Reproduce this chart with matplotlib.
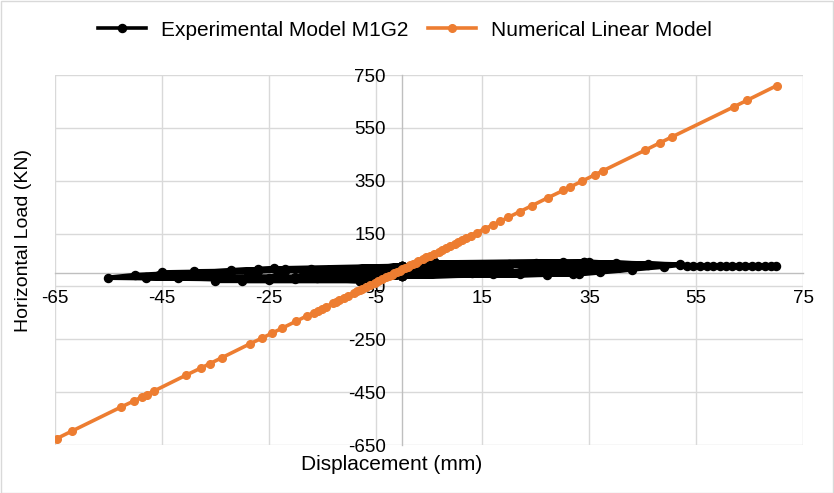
import matplotlib
matplotlib.use("Agg")
import matplotlib.pyplot as plt
from matplotlib.patches import Rectangle
from matplotlib.lines import Line2D

plt.rcParams['font.family'] = ['Liberation Sans', 'DejaVu Sans']

# ---------------- data ----------------
x_ticks = [-65, -45, -25, -5, 15, 35, 55, 75]
y_ticks = [-650, -450, -250, -50, 150, 350, 550, 750]

# Experimental hysteresis: cycle vertices
exp_disp = [0,
            0, 4, 1, 0, -4, -1,
            0, 6, 8, 5, 0, -8, -5,
            0, 6, 8, 5, 0, -8, -5,
            0, 6, 12, 9, 0, -8, -12, -9,
            0, 6, 12, 9, 0, -8, -12, -9,
            0, 6, 16, 13, 0, -8, -16, -13,
            0, 6, 16, 13, 0, -8, -16, -13,
            0, 6, 20, 17, 0, -8, -20, -17,
            0, 6, 20, 17, 0, -8, -20, -17,
            0, 6, 25, 22, 0, -8, -25, -22,
            0, 6, 25, 22, 0, -8, -25, -22,
            0, 6, 30, 27, 0, -8, -30, -27,
            0, 6, 30, 27, 0, -8, -30, -27,
            0, 6, 35, 32, 0, -8, -35, -32,
            0, 6, 35, 32, 0, -8, -35, -32,
            0, 6, 40, 37, 0, -8, -42, -39,
            0, 6, 40, 37, 0, -8, -42, -39,
            0, 6, 46, 43, 0, -8, -48, -45,
            0, 6, 46, 43, 0, -8, -48, -45,
            0, 6, 34, 52, 49, 33, 0, -8, -55, -50, -24,
            0, 6, 34, 52,
            53.3, 54.5, 55.7, 57, 58.2, 59.4, 60.6, 61.8, 63, 64.2, 65.4, 66.6, 67.8, 69, 70]
exp_load = [0,
            11, 16, 6, 5, 4, 11,
            14, 23, 23, 7, 2, -10, 11,
            10, 18, 18, 12, 6, -5, 7,
            17, 27, 28, 4, -1, -14, -15, 10,
            12, 20, 21, 11, 4, -8, -8, 3,
            20, 31, 32, 1, -4, -18, -19, 12,
            14, 23, 24, 9, 2, -10, -11, 5,
            23, 35, 36, -2, -7, -22, -23, 15,
            16, 26, 27, 7, 0, -13, -14, 6,
            26, 38, 40, -4, -10, -26, -27, 16,
            18, 28, 30, 6, -2, -16, -17, 7,
            28, 41, 43, -6, -12, -29, -29, 16,
            20, 31, 33, 4, -4, -18, -20, 7,
            28, 41, 42, -4, -12, -29, -29, 12,
            22, 33, 36, 3, -6, -21, -23, 6,
            28, 41, 40, 3, -12, -29, -18, 7,
            17, 27, 31, 14, -1, -14, -12, 1,
            28, 41, 36, 14, -12, -29, -18, 3,
            18, 28, 32, 20, -2, -16, -14, -2,
            28, 41, 43, 32, 25, -4, -12, -29, -17, -7, 18,
            28, 41, 43, 33,
            29, 29, 29, 29, 29, 29, 29, 29, 29, 29, 29, 29, 29, 29, 29]

# Numerical linear model
num_disp = [-64.7, -61.9, -52.6, -50.3, -48.8, -47.8, -46.4, -40.4, -37.7, -36.0,
            -33.8, -28.5, -26.3, -24.4, -22.6, -19.8, -17.9, -16.5, -15.8, -15,
            -14.2, -13, -12.5, -11.8, -11, -10.2, -9, -8.5, -8, -7.5,
            -6.8, -6, -5.2, -4.5, -3.8, -3, -2.5, -2, -1.5, -1,
            -0.5, 0, 0.5, 1, 1.5, 2, 2.5, 3, 3.8, 4.5,
            5.2, 6, 6.8, 7.5, 8.2, 9, 9.8, 10.5, 11.2, 12,
            12.8, 13.9, 15.5, 17, 18.3, 19.8, 22.0, 24.2, 27.3, 30.1,
            31.4, 33.6, 36.1, 37.6, 45.4, 48.2, 50.4, 62.0, 64.5, 70.1]
num_load = [-626, -598, -506, -484, -469, -459, -445, -385, -359, -342,
            -320, -267, -246, -227, -209, -181, -162, -149, -142, -134,
            -126, -114, -109, -102, -94, -86, -74, -69, -64, -59,
            -52, -45, -37, -30, -23, -15, -10, -5, 0, 5,
            10, 15, 20, 25, 30, 35, 40, 45, 53, 60,
            67, 74, 82, 89, 96, 104, 112, 119, 126, 134,
            142, 153, 169, 183, 196, 211, 233, 255, 286, 313,
            326, 348, 373, 388, 465, 493, 515, 629, 654, 710]

series_names = ["Experimental Model M1G2", "Numerical Linear Model"]
x_label = "Displacement (mm)"
y_label = "Horizontal Load (KN)"

BLACK = '#000000'
ORANGE = '#ED7D31'

# ---------------- figure ----------------
W, H = 834, 493
fig = plt.figure(figsize=(W / 100, H / 100), dpi=100)
fig.patch.set_facecolor('white')
fig.patches.append(Rectangle((0.5 / W, 0.5 / H), 1 - 1.5 / W, 1 - 1.5 / H,
                             transform=fig.transFigure, fill=False,
                             edgecolor='#d9d9d9', linewidth=1.0))

ax = fig.add_axes([55 / W, 1 - 445 / H, (803 - 55) / W, (445 - 75) / H])
ax.set_xlim(-65, 75)
ax.set_ylim(-650, 750)
ax.set_xticks(x_ticks)
ax.set_yticks(y_ticks)
ax.set_xticklabels([str(v) for v in x_ticks])
ax.set_yticklabels([str(v) for v in y_ticks])
ax.grid(True, color='#d9d9d9', linewidth=1.0, zorder=0)
ax.set_axisbelow(True)

for s in ['top', 'right']:
    ax.spines[s].set_visible(False)
ax.spines['left'].set_position(('data', 0))
ax.spines['bottom'].set_position(('data', 0))
for s in ['left', 'bottom']:
    ax.spines[s].set_color('#bfbfbf')
    ax.spines[s].set_linewidth(1.0)
    ax.spines[s].set_zorder(1)

ax.tick_params(axis='both', length=0, labelsize=13.5, labelcolor='black')
ax.tick_params(axis='x', pad=12)
ax.tick_params(axis='y', pad=12)

ax.plot(exp_disp, exp_load, color=BLACK, linewidth=3.3,
        marker='o', markersize=5.8, zorder=3, solid_joinstyle='round')
ax.plot(num_disp, num_load, color=ORANGE, linewidth=2.6,
        marker='o', markersize=5.5, zorder=4)

fig.text(392 / W, 1 - 465 / H, x_label, ha='center', va='center', fontsize=15)
fig.text(24 / W, 1 - 241 / H, y_label, ha='center', va='center', fontsize=14,
         rotation=90)

h1 = Line2D([], [], color=BLACK, linewidth=2.6, marker='o', markersize=5.8)
h2 = Line2D([], [], color=ORANGE, linewidth=2.6, marker='o', markersize=5.5)
fig.legend([h1, h2], series_names, loc='center', bbox_to_anchor=(405 / W, 1 - 30 / H),
           ncol=2, frameon=False, fontsize=15, handlelength=2.3,
           handletextpad=0.75, columnspacing=0.9, numpoints=1)

fig.savefig('out.png', dpi=100)
